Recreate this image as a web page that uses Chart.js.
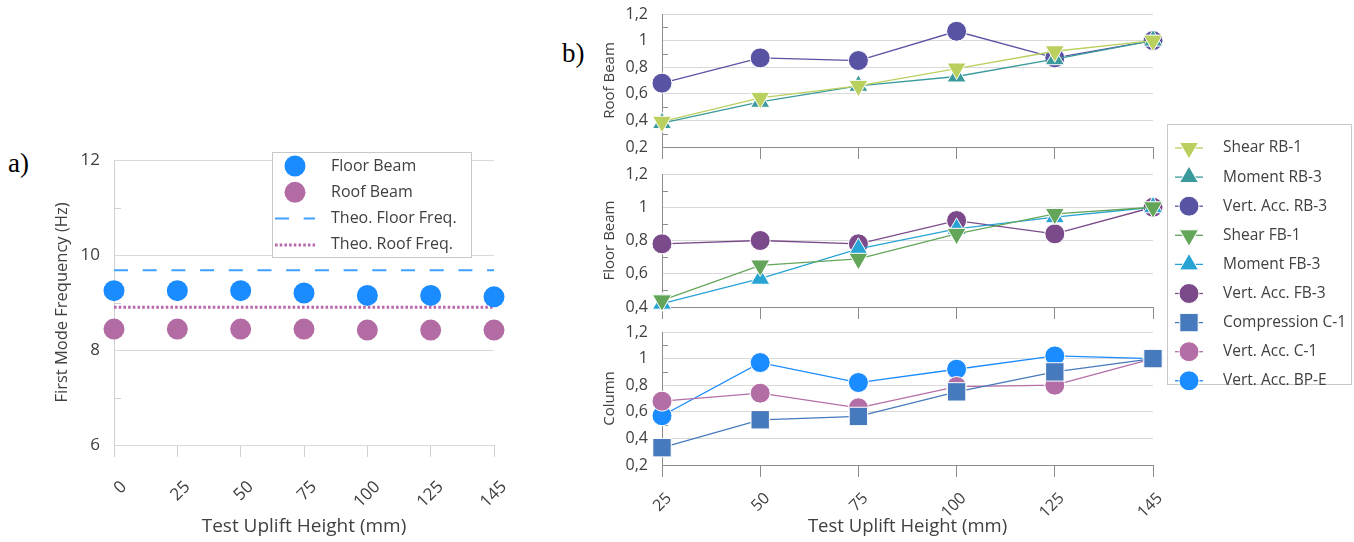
<!DOCTYPE html>
<html>
<head>
<meta charset="utf-8">
<script src="https://cdn.jsdelivr.net/npm/chart.js@4.4.0/dist/chart.umd.min.js"></script>
<style>
  body { margin: 0; width: 1354px; height: 542px; background: #fff; position: relative; overflow: hidden; }
  canvas { position: absolute; }
  .lbl { position: absolute; font-family: "Liberation Serif", serif; font-size: 27px; line-height: 1; color: #000; }
</style>
</head>
<body>
<div class="lbl" style="left:8px;top:150px">a)</div>
<div class="lbl" style="left:562px;top:40px">b)</div>
<canvas id="chartA" width="530" height="402" style="left:0;top:140px"></canvas>
<canvas id="roofB" width="630" height="162" style="left:560px;top:0"></canvas>
<canvas id="floorB" width="630" height="162" style="left:560px;top:160px"></canvas>
<canvas id="columnB" width="630" height="224" style="left:560px;top:318px"></canvas>
<canvas id="legendB" width="194" height="280" style="left:1160px;top:115px"></canvas>
<script>
// ---- a) first mode frequency ----
const upliftA = ['0', '25', '50', '75', '100', '125', '145'];
const floorBeamFreq = [9.25, 9.25, 9.25, 9.2, 9.15, 9.15, 9.12];
const roofBeamFreq = [8.44, 8.44, 8.44, 8.44, 8.42, 8.42, 8.42];
const theoFloorFreq = [9.68, 9.68, 9.68, 9.68, 9.68, 9.68, 9.68];
const theoRoofFreq = [8.9, 8.9, 8.9, 8.9, 8.9, 8.9, 8.9];

// ---- b) normalised values ----
const upliftB = ['25', '50', '75', '100', '125', '145'];
const shearRB1 = [0.39, 0.57, 0.66, 0.79, 0.92, 1.0];
const momentRB3 = [0.38, 0.54, 0.66, 0.73, 0.86, 1.0];
const vertAccRB3 = [0.68, 0.87, 0.85, 1.07, 0.87, 1.0];
const shearFB1 = [0.44, 0.65, 0.69, 0.84, 0.96, 1.0];
const momentFB3 = [0.42, 0.57, 0.75, 0.87, 0.94, 1.0];
const vertAccFB3 = [0.78, 0.8, 0.78, 0.92, 0.84, 1.0];
const compressionC1 = [0.33, 0.54, 0.565, 0.75, 0.9, 1.0];
const vertAccC1 = [0.68, 0.74, 0.63, 0.79, 0.8, 1.0];
const vertAccBPE = [0.57, 0.97, 0.82, 0.92, 1.02, 1.0];

Chart.defaults.font.family = '"Open Sans", sans-serif';
Chart.defaults.color = '#404040';
Chart.defaults.animation = false;

function isMajor(v, step) {
  const r = v / step;
  return Math.abs(r - Math.round(r)) < 1e-6;
}
function comma(v) {
  return String(Math.round(v * 10) / 10).replace('.', ',');
}

// small tick marks inside the axis at the unlabelled steps
const minorTicks = {
  id: 'minorTicks',
  beforeDatasetsDraw(chart, args, o) {
    const s = chart.scales.y, ctx = chart.ctx;
    ctx.save();
    ctx.strokeStyle = o.color;
    ctx.lineWidth = 1;
    ctx.beginPath();
    s.ticks.forEach(t => {
      if (isMajor(t.value, o.major)) return;
      const py = Math.round(s.getPixelForValue(t.value)) + 0.5;
      ctx.moveTo(s.right, py);
      ctx.lineTo(s.right + o.len, py);
    });
    ctx.stroke();
    ctx.restore();
  }
};

// excel style legend in a box
const boxLegend = {
  id: 'boxLegend',
  afterDraw(chart, args, o) {
    const ctx = chart.ctx;
    ctx.save();
    ctx.fillStyle = '#fff';
    ctx.fillRect(o.x, o.y, o.w, o.h);
    ctx.strokeStyle = '#c8c8c8';
    ctx.lineWidth = 1;
    ctx.strokeRect(o.x + 0.5, o.y + 0.5, o.w, o.h);
    ctx.font = o.size + 'px "Open Sans", sans-serif';
    ctx.textBaseline = 'middle';
    chart.data.datasets.forEach((ds, i) => {
      const cy = o.y + o.first + i * o.row;
      if (ds.showLine !== false) {
        ctx.save();
        ctx.strokeStyle = ds.borderColor;
        ctx.lineWidth = ds.borderWidth || 1;
        ctx.setLineDash(ds.borderDash || []);
        ctx.beginPath();
        ctx.moveTo(o.lx0, cy);
        ctx.lineTo(o.lx1, cy);
        ctx.stroke();
        ctx.restore();
      }
      if (ds.pointRadius > 0) {
        ctx.fillStyle = ds.pointBackgroundColor || ds.backgroundColor;
        ctx.strokeStyle = ds.pointBorderColor || '#fff';
        ctx.lineWidth = ds.pointBorderWidth || 0;
        Chart.helpers.drawPoint(ctx, {
          pointStyle: ds.pointStyle || 'circle',
          rotation: ds.pointRotation || 0,
          radius: ds.pointRadius,
          borderWidth: ds.pointBorderWidth || 0
        }, o.mx, cy);
      }
      ctx.fillStyle = '#404040';
      ctx.fillText(ds.label, o.tx, cy);
    });
    ctx.restore();
  }
};

// ---------- chart a ----------
new Chart(document.getElementById('chartA'), {
  type: 'line',
  data: {
    labels: upliftA,
    datasets: [
      { label: 'Floor Beam', data: floorBeamFreq, showLine: false, pointRadius: 10.5,
        backgroundColor: '#1a8cff', pointBackgroundColor: '#1a8cff', pointBorderWidth: 0, clip: false },
      { label: 'Roof Beam', data: roofBeamFreq, showLine: false, pointRadius: 10.5,
        backgroundColor: '#b36ba3', pointBackgroundColor: '#b36ba3', pointBorderWidth: 0, clip: false },
      { label: 'Theo. Floor Freq.', data: theoFloorFreq, pointRadius: 0, borderColor: '#3ea0ff',
        borderWidth: 2, borderDash: [14, 14.7] },
      { label: 'Theo. Roof Freq.', data: theoRoofFreq, pointRadius: 0, borderColor: '#b868ab',
        borderWidth: 3, borderDash: [2.6, 2.1] }
    ]
  },
  options: {
    responsive: false,
    layout: { padding: { left: 48, right: 36, top: 20, bottom: 0 } },
    plugins: {
      legend: { display: false },
      tooltip: { enabled: false },
      minorTicks: { major: 2, len: 7, color: '#d0d0d0' },
      boxLegend: { x: 272, y: 12, w: 199, h: 105, first: 14, row: 26.3,
        lx0: 275, lx1: 315, mx: 295, tx: 331, size: 16 }
    },
    scales: {
      x: {
        ticks: { autoSkip: false, maxRotation: 45, minRotation: 45, padding: 20, labelOffset: 10, font: { size: 17 } },
        grid: { drawOnChartArea: false, drawTicks: true, tickLength: 12, color: '#d0d0d0' },
        border: { color: '#d9d9d9' },
        title: { display: true, text: 'Test Uplift Height (mm)', font: { size: 19 }, padding: { top: 4, bottom: 4 } },
        afterFit: s => { s.height = 97; }
      },
      y: {
        min: 6, max: 12,
        ticks: { stepSize: 1, autoSkip: false, padding: 3, font: { size: 17 },
          callback: v => isMajor(v, 2) ? String(v) : '' },
        grid: { drawTicks: true, tickLength: 11, tickColor: 'rgba(0,0,0,0)',
          color: c => isMajor(c.tick.value, 2) ? '#d9d9d9' : 'rgba(0,0,0,0)' },
        border: { color: '#d0d0d0' },
        title: { display: true, text: 'First Mode Frequency (Hz)', font: { size: 16.5 }, padding: { top: 4, bottom: 4 } },
        afterFit: s => { s.width = 66; }
      }
    }
  },
  plugins: [minorTicks, boxLegend]
});

// ---------- chart b ----------
function series(label, data, color, style, rotation, radius) {
  return {
    label: label, data: data, borderColor: color, backgroundColor: color,
    pointBackgroundColor: color, pointBorderColor: '#fff', pointBorderWidth: 1,
    pointStyle: style, pointRotation: rotation, pointRadius: radius,
    borderWidth: 1.3, clip: false
  };
}

const dsShearRB1 = () => series('Shear RB-1', shearRB1, '#b9d05f', 'triangle', 180, 11);
const dsMomentRB3 = () => series('Moment RB-3', momentRB3, '#3a9a9b', 'triangle', 0, 11);
const dsVertAccRB3 = () => series('Vert. Acc. RB-3', vertAccRB3, '#5953a3', 'circle', 0, 10);
const dsShearFB1 = () => series('Shear FB-1', shearFB1, '#63a65a', 'triangle', 180, 11);
const dsMomentFB3 = () => series('Moment FB-3', momentFB3, '#27a3d4', 'triangle', 0, 11);
const dsVertAccFB3 = () => series('Vert. Acc. FB-3', vertAccFB3, '#7a4a8a', 'circle', 0, 10);
const dsCompressionC1 = () => series('Compression C-1', compressionC1, '#4779bd', 'rect', 0, 13);
const dsVertAccC1 = () => series('Vert. Acc. C-1', vertAccC1, '#b46ea6', 'circle', 0, 10);
const dsVertAccBPE = () => series('Vert. Acc. BP-E', vertAccBPE, '#1a8cff', 'circle', 0, 10);

function panelB(id, datasets, yMin, yTitle, bottom) {
  return new Chart(document.getElementById(id), {
    type: 'line',
    data: { labels: upliftB, datasets: datasets },
    options: {
      responsive: false,
      layout: { padding: { left: 37, right: 37, top: 14, bottom: 0 } },
      plugins: {
        legend: { display: false },
        tooltip: { enabled: false },
        minorTicks: { major: 0.2, len: 6, color: '#8c8c8c' }
      },
      scales: {
        x: {
          ticks: { display: bottom, autoSkip: false, maxRotation: 45, minRotation: 45, padding: 12, labelOffset: 7, font: { size: 16 } },
          grid: { drawOnChartArea: false, drawTicks: true, tickLength: 12, color: '#8c8c8c' },
          border: { color: '#8c8c8c' },
          title: { display: bottom, text: 'Test Uplift Height (mm)', font: { size: 18.5 }, padding: { top: 4, bottom: 4 } },
          afterFit: s => { s.height = bottom ? 77 : 15; }
        },
        y: {
          min: yMin, max: 1.2,
          ticks: { stepSize: 0.1, autoSkip: false, padding: 3, font: { size: 16 },
            callback: v => isMajor(v, 0.2) ? comma(v) : '' },
          grid: { drawTicks: true, tickLength: 11, tickColor: 'rgba(0,0,0,0)',
            color: c => isMajor(c.tick.value, 0.2) ? '#d9d9d9' : 'rgba(0,0,0,0)' },
          border: { color: '#8c8c8c' },
          title: { display: true, text: yTitle, font: { size: 15 }, padding: { top: 4, bottom: 4 } },
          afterFit: s => { s.width = 65; }
        }
      }
    },
    plugins: [minorTicks]
  });
}

panelB('roofB', [dsShearRB1(), dsMomentRB3(), dsVertAccRB3()], 0.2, 'Roof Beam', false);
panelB('floorB', [dsShearFB1(), dsMomentFB3(), dsVertAccFB3()], 0.4, 'Floor Beam', false);
panelB('columnB', [dsCompressionC1(), dsVertAccC1(), dsVertAccBPE()], 0.2, 'Column', true);

// legend for panel b (no data drawn, only the box legend)
const legendSets = [dsShearRB1(), dsMomentRB3(), dsVertAccRB3(), dsShearFB1(), dsMomentFB3(),
  dsVertAccFB3(), dsCompressionC1(), dsVertAccC1(), dsVertAccBPE()];
legendSets.forEach(d => { d.data = []; });
new Chart(document.getElementById('legendB'), {
  type: 'line',
  data: { labels: [], datasets: legendSets },
  options: {
    responsive: false,
    scales: { x: { display: false }, y: { display: false } },
    plugins: {
      legend: { display: false },
      tooltip: { enabled: false },
      boxLegend: { x: 7, y: 9, w: 184, h: 260, first: 24, row: 29.1,
        lx0: 15, lx1: 43, mx: 29, tx: 63, size: 15.5 }
    }
  },
  plugins: [boxLegend]
});
</script>
</body>
</html>
